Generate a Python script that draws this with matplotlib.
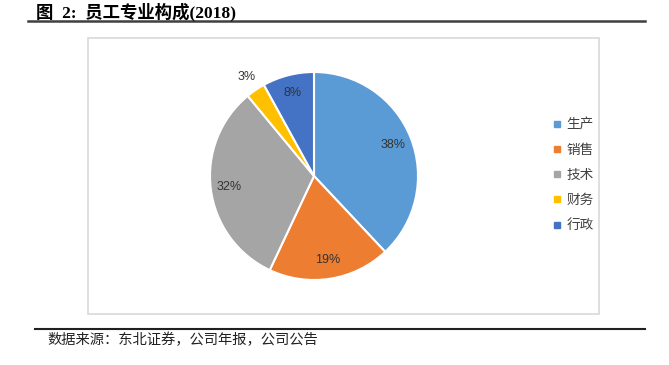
import numpy as np
import matplotlib.pyplot as plt
from matplotlib.patches import Rectangle
from matplotlib.lines import Line2D

plt.rcParams['font.family'] = ['Noto Sans CJK SC', 'DejaVu Sans']

# 数据
categories = ['生产', '销售', '技术', '财务', '行政']
shares = [38, 19, 32, 3, 8]
colors = ['#5B9BD5', '#ED7D31', '#A5A5A5', '#FFC000', '#4472C4']

W, H = 669, 365
fig = plt.figure(figsize=(W / 100, H / 100), dpi=100)


def px(x, y):
    # pixel coords (top-left origin) -> figure fraction
    return x / W, 1 - y / H


# 标题与横线
fig.text(*px(36, 12), '图  2:  员工专业构成(2018)', fontsize=12.5, fontweight='bold',
         family=['Liberation Serif', 'Noto Sans CJK SC'], va='center', ha='left')
fig.add_artist(Line2D([28 / W, 645 / W], [1 - 21 / H] * 2, color='#404040', lw=1.8))
fig.add_artist(Line2D([35 / W, 645 / W], [1 - 329 / H] * 2, color='#202020', lw=1.5))
fig.text(*px(47, 340), '数据来源：东北证券，公司年报，公司公告', fontsize=10.3,
         va='center', ha='left', color='#222222')

# 图表外框
x0, y0 = px(88, 314)
fig.add_artist(Rectangle((x0, y0), (599 - 88) / W, (314 - 38) / H,
                         transform=fig.transFigure, fill=False,
                         edgecolor='#D9D9D9', lw=1.2))

# 饼图
cx, cy, r = 314, 176, 104
ax = fig.add_axes([(cx - r) / W, (H - cy - r) / H, 2 * r / W, 2 * r / H])
wedges, texts, autotexts = ax.pie(
    shares, colors=colors, startangle=90, counterclock=False,
    autopct='%d%%', pctdistance=0.82,
    wedgeprops=dict(edgecolor='white', linewidth=1.5),
    textprops=dict(fontsize=9, color='#333333', family=['Liberation Sans']))
ax.set_xlim(-1, 1)
ax.set_ylim(-1, 1)

# 3% 标签放在外侧
w = wedges[3]
ang = np.deg2rad((w.theta1 + w.theta2) / 2)
autotexts[3].set_position((1.15 * np.cos(ang), 1.15 * np.sin(ang)))

# 图例
handles = [Line2D([], [], marker='s', linestyle='', markersize=5,
                  markerfacecolor=c, markeredgecolor=c) for c in colors]
fig.legend(handles, categories, loc='center left', bbox_to_anchor=px(538, 175),
           frameon=False, fontsize=9.8, handletextpad=0.2, labelspacing=0.82,
           handlelength=1.0, labelcolor='#404040')

fig.savefig('out.png', dpi=100)
